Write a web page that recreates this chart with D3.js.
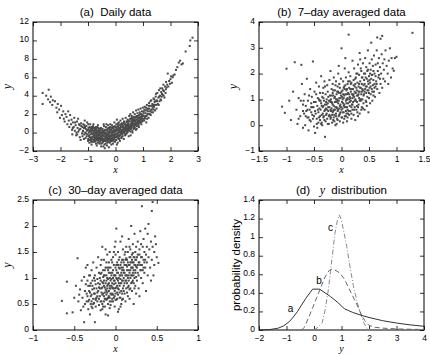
<!DOCTYPE html>
<html><head><meta charset="utf-8">
<script src="https://cdn.jsdelivr.net/npm/d3@7"></script>
<style>body{margin:0;background:#fff}svg{display:block}svg text{white-space:pre}</style>
</head><body>
<svg id="chart" width="430" height="354"></svg>
<script>
// ---- data ----
const titles = ["(a)  Daily data", "(b)  7\u2013day averaged data", "(c)  30\u2013day averaged data", "distribution"];
const ticksA_x = [-3,-2,-1,0,1,2,3], ticksA_y = [-2,0,2,4,6,8,10,12];
const ticksB_x = [-1.5,-1,-0.5,0,0.5,1,1.5], ticksB_y = [-1,0,1,2,3,4];
const ticksC_x = [-1,-0.5,0,0.5,1], ticksC_y = [0,0.5,1,1.5,2,2.5];
const ticksD_x = [-2,-1,0,1,2,3,4], ticksD_y = [0,0.2,0.4,0.6,0.8,1,1.2,1.4];

const dailyPts = [
-2.65,4.3,-2.65,3.1,-2.52,4.0,-2.43,4.65,-2.45,3.6,-2.38,3.3,-2.35,3.9,-2.3,3.0,-2.28,3.5,-2.2,3.4,-2.15,2.7,-2.12,2.2,-2.05,2.5,-2.02,1.6,-1.98,2.9,-1.95,1.9,-1.9,2.3,-1.88,1.5,-1.85,1.2,-2.1,3.1,-1.82,2.0,-1.78,1.7,-1.75,0.9,-1.72,2.3,-1.7,1.3,-1.68,0.6,
-1.65,1.9,-1.62,0.9,-1.6,1.4,-1.58,0.3,-1.55,1.1,-1.52,0.6,-1.5,1.6,-1.48,0.2,-1.45,0.8,-1.43,-0.3,-1.4,1.2,-1.38,0.5,-1.35,0.1,-1.33,0.9,-1.3,-0.5,-1.28,0.4,-1.25,1.0,-1.22,-0.1,-1.2,0.6,-1.18,0.2,-1.15,-0.7,-1.13,0.8,-1.1,0.0,-1.08,0.4,-1.05,-0.4,-1.03,1.1,-1.0,0.3,-1.0,-0.9,-1.27,-0.8,-1.42,0.0,-1.57,-0.2,-1.36,1.5,-1.12,1.3,-1.2,-0.4,-1.06,0.7,-1.32,0.3,-1.47,1.1,-1.17,0.9,-1.02,-0.2,-1.24,0.7,-1.39,-0.2,-1.09,-0.6,-1.15,0.5,-1.3,0.8,-1.55,0.5,
-0.98,0.5,-0.96,-0.3,-0.95,-1.1,-0.93,0.2,-0.92,0.9,-0.9,-0.6,-0.88,0.0,-0.87,-1.3,-0.85,0.4,-0.84,-0.2,-0.82,0.7,-0.8,-0.8,-0.79,0.1,-0.78,-0.4,-0.76,-1.0,-0.75,0.3,-0.73,-0.1,-0.72,0.6,-0.7,-0.7,-0.69,-0.3,-0.68,-1.4,-0.66,0.2,-0.65,-0.5,-0.64,0.8,-0.62,-0.9,-0.61,-0.2,-0.6,0.4,-0.58,-1.2,-0.57,-0.6,-0.56,0.0,-0.54,-0.4,-0.53,0.5,-0.52,-1.5,-0.51,-0.8,-0.97,0.0,-0.94,-0.5,-0.91,0.3,-0.89,-0.9,-0.86,0.6,-0.83,-0.5,-0.81,-0.1,-0.77,0.2,-0.74,-0.6,-0.71,-1.2,-0.67,0.0,-0.63,-0.3,-0.59,-0.7,-0.55,0.2,-0.99,-0.7,-0.8,0.9,-0.72,-0.9,-0.64,-1.1,-0.6,0.1,-0.56,-1.0,-0.52,-0.1,-0.86,-0.7,-0.78,0.5,-0.7,0.0,-0.62,0.5,-0.91,-0.2,-0.83,0.2,-0.75,-0.3,-0.67,-0.8,-0.58,-0.2,-0.69,0.4,-0.94,0.6,-0.88,-1.0,-0.76,-0.8,-0.66,-0.6,-0.54,-0.6,
-0.49,-0.3,-0.48,-1.1,-0.47,0.4,-0.46,-0.7,-0.45,0.1,-0.44,-1.5,-0.43,-0.4,-0.42,0.7,-0.41,-0.9,-0.4,-0.1,-0.39,-1.7,-0.38,0.3,-0.37,-0.6,-0.36,-1.2,-0.35,0.0,-0.34,-0.3,-0.33,0.9,-0.32,-0.8,-0.31,-1.4,-0.3,0.2,-0.29,-0.5,-0.28,-0.1,-0.27,-1.0,-0.26,0.5,-0.25,-0.7,-0.24,-1.6,-0.23,0.1,-0.22,-0.3,-0.21,-1.1,-0.2,0.6,-0.19,-0.6,-0.18,0.0,-0.17,-0.9,-0.16,0.3,-0.15,-1.3,-0.14,-0.4,-0.13,0.8,-0.12,-0.2,-0.11,-0.8,-0.1,0.2,-0.09,-1.2,-0.08,-0.5,-0.07,0.4,-0.06,0.0,-0.05,-0.7,-0.04,1.1,-0.03,-0.3,-0.02,-1.0,-0.01,0.3,-0.01,-0.5,-0.48,0.2,-0.45,-0.4,-0.41,0.0,-0.37,-0.2,-0.33,-0.5,-0.29,0.4,-0.25,-0.2,-0.21,0.3,-0.17,-0.4,-0.13,0.0,-0.09,0.5,-0.05,0.1,-0.46,-0.9,-0.38,-0.9,-0.3,-1.1,-0.22,-0.8,-0.14,-0.9,-0.06,-0.3,-0.43,0.9,-0.35,0.6,-0.27,0.8,-0.19,0.9,-0.11,0.6,-0.03,0.7,-0.4,-1.3,
0.01,-0.2,0.02,0.6,0.03,-0.8,0.04,0.2,0.05,1.4,0.06,-0.4,0.07,0.9,0.08,-1.1,0.09,0.0,0.1,0.5,0.11,-0.6,0.12,1.1,0.13,0.2,0.14,-0.3,0.15,0.8,0.16,-0.9,0.17,0.4,0.18,1.3,0.19,-0.1,0.2,0.6,0.21,0.1,0.22,-0.5,0.23,1.0,0.24,0.3,0.25,-0.2,0.26,1.5,0.27,0.7,0.28,0.0,0.29,0.4,0.3,-0.7,0.31,1.2,0.32,0.5,0.33,0.1,0.34,0.9,0.35,-0.3,0.36,0.6,0.37,1.6,0.38,0.2,0.39,0.8,0.4,-0.1,0.41,1.1,0.42,0.4,0.43,0.0,0.44,1.4,0.45,0.7,0.46,0.3,0.47,1.0,0.48,-0.4,0.49,0.6,0.5,1.8,0.03,0.4,0.07,-0.3,0.11,0.3,0.15,0.0,0.19,0.7,0.23,-0.1,0.27,0.3,0.31,0.1,0.35,0.9,0.39,0.3,0.43,0.8,0.47,0.4,0.05,-1.3,0.13,-0.7,0.21,-0.6,0.29,1.0,0.37,-0.2,0.45,1.2,0.1,1.0,0.25,0.9,
0.51,0.3,0.52,1.2,0.53,0.7,0.54,2.0,0.55,0.1,0.56,1.5,0.57,0.9,0.58,0.5,0.59,1.8,0.6,1.1,0.61,0.2,0.62,1.4,0.63,0.8,0.64,2.2,0.65,1.0,0.66,0.4,0.67,1.7,0.68,1.2,0.69,0.6,0.7,2.0,0.71,1.3,0.72,0.9,0.73,1.6,0.74,0.3,0.75,2.4,0.76,1.1,0.77,1.8,0.78,0.7,0.79,1.4,0.8,2.1,0.81,1.0,0.82,1.6,0.83,2.5,0.84,0.8,0.85,1.3,0.86,1.9,0.87,1.5,0.88,2.2,0.89,1.1,0.9,1.7,0.91,2.6,0.92,1.4,0.93,2.0,0.94,0.9,0.95,1.6,0.96,2.3,0.97,1.2,0.98,1.9,0.99,2.7,1.0,1.5,0.55,-0.3,0.62,0.0,0.7,0.5,0.77,0.4,0.85,0.6,0.58,1.0,0.66,1.3,0.74,1.0,0.82,1.2,0.9,1.2,
1.02,2.1,1.04,1.3,1.06,2.8,1.08,1.8,1.1,2.4,1.12,1.1,1.14,3.0,1.16,2.0,1.18,2.6,1.2,1.6,1.22,3.2,1.24,2.3,1.26,2.9,1.28,1.9,1.3,3.5,1.32,2.5,1.34,3.1,1.36,2.2,1.38,3.7,1.4,2.8,1.42,3.3,1.44,2.4,1.46,3.9,1.48,3.0,1.5,3.5,1.05,2.5,1.15,1.5,1.25,2.0,1.35,2.7,1.45,3.4,1.11,2.7,1.21,2.9,1.31,2.2,1.41,3.6,1.49,2.6,1.07,1.6,1.17,2.3,1.27,3.4,1.37,3.0,1.47,4.2,
1.52,4.3,1.54,3.1,1.56,3.8,1.58,4.6,1.6,3.4,1.62,4.0,1.64,3.6,1.66,4.4,1.68,3.9,1.7,4.8,1.72,4.1,1.74,5.2,1.76,4.5,1.78,3.8,1.8,5.0,1.82,4.3,1.84,5.5,1.86,4.9,1.88,5.2,1.9,6.4,1.92,5.0,1.95,5.6,1.98,5.3,2.0,5.8,1.57,3.0,1.63,4.8,1.69,4.2,1.75,4.0,1.83,4.7,
2.05,5.4,2.08,6.0,2.1,6.2,2.15,6.3,2.2,6.8,2.3,7.6,2.35,7.8,2.4,7.4,2.45,7.5,2.55,8.8,2.7,9.4,2.72,10.0,2.8,10.3,2.25,7.1,2.02,6.1,
-1.19,0.1,-1.14,-0.2,-1.11,0.6,-1.07,-0.1,-1.04,0.2,-0.99,0.9,-0.97,-0.4,-0.95,0.1,-0.93,-0.8,-0.9,0.5,-0.89,0.2,-0.87,-0.5,-0.85,-0.1,-0.84,0.3,-0.82,-1.0,-0.81,0.5,-0.79,-0.3,-0.77,-0.6,-0.76,0.0,-0.74,0.4,-0.73,-0.5,-0.71,0.2,-0.7,-0.2,-0.68,-0.5,-0.67,0.6,-0.65,-0.1,-0.63,-0.7,-0.62,0.2,-0.61,-0.5,-0.59,0.0,-0.57,-0.3,-0.55,-0.8,-0.54,0.3,-0.53,-0.5,-0.51,-1.2,-0.5,0.0,-0.49,-0.6,-0.47,-0.2,-0.46,-1.0,-0.44,-0.1,-0.43,-0.7,-0.42,0.2,-0.41,-0.4,-0.39,-0.8,-0.38,0.0,-0.36,-0.5,-0.35,-0.9,-0.34,0.3,-0.32,-0.2,-0.31,-0.6,-0.3,-0.3,-0.28,-0.8,-0.27,0.1,-0.26,-0.4,-0.24,-0.1,-0.23,-0.6,-0.22,0.4,-0.2,-0.4,-0.19,-1.0,-0.18,0.2,-0.16,-0.7,-0.15,-0.2,-0.14,0.5,-0.12,-0.6,-0.11,0.1,-0.1,-0.3,-0.08,-0.9,-0.07,0.0,-0.06,0.6,-0.04,-0.5,-0.03,0.2,-0.02,-0.2,0.0,-0.8,0.0,0.1,0.02,-0.5,0.03,0.9,0.04,-0.1,0.06,0.3,0.08,-0.6,0.09,0.7,0.1,-0.2,0.12,0.2,0.13,-0.4,0.15,0.5,0.16,0.1,0.18,-0.3,0.19,0.9,0.2,0.3,0.22,0.0,0.23,0.6,0.25,0.2,0.26,-0.4,0.28,0.7,0.29,0.1,0.3,0.5,0.32,1.0,0.33,-0.1,0.34,0.4,0.36,0.2,0.37,0.8,0.38,0.5,0.4,1.2,0.41,0.3,0.42,0.7,0.44,0.1,0.45,0.9,0.46,0.5,0.48,1.3,0.49,0.2,0.5,0.8,0.52,0.5,0.53,1.5,0.55,0.9,0.56,0.4,0.58,1.3,0.59,0.7,0.6,1.6,0.62,0.9,0.63,1.2,0.65,0.6,0.66,1.5,0.68,0.9,0.7,1.4,0.71,0.8,0.73,1.2,0.75,1.7,0.76,0.9,0.78,1.4,0.8,1.0,0.81,1.8,0.83,1.3,0.85,1.0,0.86,1.6,0.88,1.3,0.9,2.0,0.92,1.1,0.94,1.5,0.96,1.8,0.98,1.3,1.01,1.8,1.03,2.3,1.06,1.5,1.09,2.1,1.13,1.8,1.16,2.5,1.19,2.0,1.23,2.6,1.28,2.4,1.33,2.9,1.39,2.5,1.43,3.0,1.51,3.4,1.59,3.9,1.66,3.5,1.73,4.6
];

const weeklyPts = [
-1.08,0.72,-1.03,0.48,-1.0,2.19,-0.95,0.95,-0.92,0.2,-0.88,1.3,-0.85,2.44,-0.82,0.6,-0.8,0.05,-0.78,1.05,-0.75,0.35,-0.73,2.34,-0.72,1.6,-0.7,0.8,-0.7,-0.1,
-0.68,0.45,-0.67,1.2,-0.66,0.0,-0.65,0.75,-0.63,1.8,-0.62,0.3,-0.61,0.95,-0.6,-0.2,-0.58,0.6,-0.57,1.4,-0.56,0.15,-0.55,0.85,-0.54,1.1,-0.53,0.4,-0.52,2.47,-0.51,0.7,-0.5,-0.05,-0.49,1.3,-0.48,-0.3,-0.48,0.55,-0.47,0.9,-0.46,1.65,-0.45,0.25,-0.44,0.75,-0.43,1.05,-0.42,0.1,-0.42,0.5,-0.41,1.5,-0.4,0.65,-0.4,0.95,-0.69,0.95,-0.64,0.55,-0.59,1.15,-0.55,0.5,-0.5,0.35,-0.46,1.2,-0.44,-0.1,-0.41,0.3,-0.6,0.3,-0.53,0.7,
-0.39,0.2,-0.39,1.25,-0.38,0.6,-0.37,0.85,-0.37,1.9,-0.36,0.4,-0.35,1.1,-0.35,0.0,-0.34,0.7,-0.33,1.45,-0.33,0.3,-0.32,0.95,-0.31,0.55,-0.31,1.7,-0.3,-0.45,-0.3,0.8,-0.29,1.2,-0.29,0.15,-0.28,0.65,-0.27,1.0,-0.27,0.45,-0.26,1.55,-0.26,0.25,-0.25,0.85,-0.25,1.3,-0.24,0.55,-0.23,0.05,-0.23,0.95,-0.22,1.75,-0.22,0.7,-0.21,0.35,-0.21,1.15,-0.2,0.6,-0.2,2.1,-0.38,0.95,-0.36,0.1,-0.34,1.25,-0.32,0.35,-0.3,1.5,-0.28,0.9,-0.26,0.6,-0.24,1.1,-0.22,0.4,-0.2,0.9,-0.33,0.75,
-0.19,1.0,-0.19,0.3,-0.18,1.4,-0.18,0.65,-0.17,0.1,-0.17,0.85,-0.16,1.6,-0.16,0.5,-0.15,1.15,-0.15,0.2,-0.14,0.75,-0.14,1.85,-0.13,0.4,-0.13,1.05,-0.12,0.6,-0.12,1.35,-0.11,0.0,-0.11,0.9,-0.1,1.7,-0.1,0.45,-0.09,1.2,-0.09,0.7,-0.08,0.25,-0.08,1.0,-0.07,1.5,-0.07,0.55,-0.06,0.85,-0.06,2.0,-0.05,0.35,-0.05,1.25,-0.04,0.65,-0.04,1.05,-0.03,0.15,-0.03,1.45,-0.02,0.8,-0.02,0.5,-0.01,1.15,-0.01,1.8,0.0,0.6,0.0,2.98,-0.18,0.9,-0.16,1.25,-0.14,0.3,-0.12,0.9,-0.1,1.0,-0.08,0.65,-0.06,1.3,-0.04,0.4,-0.02,1.25,-0.15,0.55,-0.11,1.55,-0.07,0.95,-0.03,0.75,-0.09,0.05,-0.05,2.3,
0.01,0.9,0.01,0.3,0.02,1.35,0.02,0.65,0.03,1.7,0.03,0.1,0.04,1.05,0.04,0.5,0.05,1.5,0.05,0.8,0.06,2.2,0.06,0.35,0.07,1.2,0.07,0.7,0.08,0.95,0.08,1.85,0.09,0.45,0.09,1.35,0.1,0.15,0.1,1.0,0.11,1.6,0.11,0.6,0.12,1.25,0.12,0.85,0.13,2.05,0.13,3.51,0.14,0.4,0.14,1.45,0.15,0.75,0.15,1.1,0.16,1.9,0.16,0.55,0.17,1.3,0.17,0.95,0.18,0.25,0.18,1.65,0.19,0.8,0.19,1.2,0.2,2.5,0.2,0.6,0.02,1.0,0.04,0.75,0.06,1.4,0.08,0.55,0.1,1.2,0.12,0.45,0.14,1.0,0.16,1.4,0.18,0.7,0.2,1.05,0.03,1.2,0.09,1.0,0.15,1.7,0.11,0.3,0.07,2.6,
0.21,1.4,0.21,0.9,0.22,1.75,0.22,0.4,0.23,1.1,0.23,2.2,0.24,0.7,0.24,1.5,0.25,1.0,0.25,0.2,0.26,1.85,0.26,1.25,0.27,0.6,0.27,2.0,0.28,1.35,0.28,0.9,0.29,1.65,0.29,0.5,0.3,1.15,0.3,2.35,0.31,0.8,0.31,1.5,0.32,1.95,0.32,1.05,0.33,0.45,0.33,1.3,0.34,1.7,0.34,2.55,0.35,0.95,0.35,1.45,0.36,1.2,0.36,2.1,0.37,0.7,0.37,1.6,0.38,1.0,0.38,1.85,0.39,1.35,0.39,2.4,0.4,0.85,0.4,1.55,0.22,1.2,0.25,1.6,0.28,0.75,0.31,1.3,0.34,1.0,0.37,1.3,0.24,0.95,0.3,0.35,0.36,0.6,0.33,2.8,
0.41,1.2,0.41,2.0,0.42,0.6,0.42,1.6,0.43,1.4,0.43,2.6,0.44,0.95,0.44,1.85,0.45,1.25,0.45,2.25,0.46,0.75,0.46,1.5,0.47,1.1,0.47,2.1,0.48,1.7,0.48,2.9,0.49,1.35,0.49,0.5,0.5,1.9,0.5,1.05,0.51,2.4,0.51,1.45,0.52,0.85,0.52,1.65,0.53,2.15,0.53,1.2,0.54,3.2,0.54,1.8,0.55,1.4,0.55,2.55,0.56,0.95,0.56,1.95,0.57,1.55,0.57,2.3,0.58,1.15,0.58,1.75,0.59,2.7,0.59,1.3,0.6,2.0,0.6,1.6,
0.61,1.1,0.62,2.35,0.63,1.7,0.64,2.9,0.65,3.4,0.65,1.4,0.66,2.1,0.67,1.85,0.68,2.6,0.69,1.25,0.7,2.25,0.71,3.35,0.71,1.6,0.72,2.0,0.73,2.75,0.74,3.46,0.74,1.45,0.75,2.4,0.76,1.8,0.77,2.15,0.78,2.55,0.79,1.7,0.8,2.9,0.62,1.5,0.68,1.95,
0.82,2.3,0.84,2.0,0.86,2.5,0.88,2.98,0.9,1.85,0.91,2.6,0.93,2.2,0.95,2.11,0.97,2.6,1.0,2.65,1.29,3.58,0.85,1.6,
-0.58,0.2,-0.55,0.7,-0.52,0.25,-0.5,0.9,-0.47,0.45,-0.45,0.05,-0.43,0.6,-0.41,1.0,-0.39,0.35,-0.37,0.05,-0.36,0.75,-0.34,0.45,-0.33,1.05,-0.31,0.2,-0.3,0.6,-0.28,0.4,-0.27,0.8,-0.25,0.05,-0.24,0.7,-0.23,0.35,-0.21,0.95,-0.2,0.25,-0.19,0.55,-0.18,1.15,-0.17,0.4,-0.16,0.8,-0.15,1.35,-0.14,0.6,-0.13,0.15,-0.12,1.1,-0.11,0.7,-0.1,0.35,-0.09,0.9,-0.08,1.3,-0.07,0.2,-0.06,0.6,-0.05,0.95,-0.04,1.6,-0.03,0.45,-0.02,1.05,-0.01,0.7,0.0,1.3,0.0,0.3,0.01,1.1,0.02,0.5,0.03,0.85,0.04,1.45,0.05,0.25,0.05,1.15,0.06,0.7,0.07,1.55,0.08,0.35,0.09,0.85,0.1,1.4,0.1,0.7,0.11,1.05,0.12,1.7,0.13,0.55,0.14,1.2,0.15,0.9,0.16,1.05,0.17,1.6,0.18,0.45,0.19,1.4,0.2,0.8,0.21,1.15,0.22,1.55,0.23,0.6,0.24,1.3,0.25,1.8,0.26,0.95,0.27,1.45,0.28,1.15,0.29,2.0,0.3,0.7,0.31,1.2,0.32,1.6,0.33,0.95,0.34,1.45,0.35,2.2,0.36,1.0,0.37,1.85,0.38,1.4,0.39,0.65,0.4,1.15,0.41,1.75,0.42,1.3,0.43,2.0,0.44,1.5,0.45,0.9,0.46,1.8,0.47,1.35,0.48,2.15,0.49,1.6,0.5,1.25,0.51,1.75,0.52,2.0,0.53,1.5,0.55,1.95,0.56,1.3,0.58,2.1,0.6,1.45,0.62,1.9,0.64,1.6,0.66,2.4,0.7,1.8,-0.62,0.6,-0.65,0.35,-0.7,0.55,-0.74,0.95,-0.78,0.25
];

const monthlyPts = [
-0.65,0.56,-0.59,0.93,-0.59,0.32,-0.52,0.34,-0.46,1.38,-0.42,0.38,-0.38,0.15,-0.5,0.62,-0.48,0.85,-0.45,0.55,-0.43,0.78,-0.41,0.95,-0.4,0.62,-0.39,0.45,-0.37,0.75,-0.36,0.88,-0.36,1.2,-0.35,0.55,-0.44,0.68,-0.38,1.02,
-0.34,0.65,-0.34,1.25,-0.33,0.4,-0.33,0.85,-0.32,0.58,-0.32,1.05,-0.31,0.72,-0.31,0.3,-0.3,0.9,-0.3,0.5,-0.29,1.15,-0.29,0.68,-0.28,0.42,-0.28,0.95,-0.27,0.6,-0.27,1.3,-0.26,0.8,-0.26,0.52,-0.25,1.05,-0.25,0.15,-0.25,0.7,-0.24,0.88,-0.24,0.45,-0.23,1.2,-0.23,0.62,-0.22,0.98,-0.22,0.55,-0.21,0.75,-0.21,1.4,-0.2,0.82,-0.2,0.48,-0.2,1.1,-0.34,0.95,-0.31,1.05,-0.28,0.78,-0.26,1.0,-0.24,0.6,-0.22,0.72,-0.29,0.55,-0.32,0.75,
-0.19,0.65,-0.19,1.0,-0.18,0.38,-0.18,1.25,-0.17,0.8,-0.17,0.55,-0.16,1.6,-0.16,0.92,-0.15,0.7,-0.15,1.15,-0.15,0.45,-0.14,0.85,-0.14,1.35,-0.13,0.6,-0.13,1.05,-0.12,0.78,-0.12,0.3,-0.12,1.2,-0.11,0.95,-0.11,0.58,-0.1,1.45,-0.1,0.72,-0.1,1.0,-0.09,0.5,-0.09,0.88,-0.08,1.3,-0.08,0.65,-0.08,1.1,-0.07,0.8,-0.07,0.42,-0.07,1.5,-0.06,0.95,-0.06,0.7,-0.06,1.2,-0.05,0.55,-0.05,1.05,-0.05,0.85,-0.19,0.8,-0.18,0.95,-0.17,1.1,-0.16,0.68,-0.15,0.9,-0.14,0.55,-0.13,0.82,-0.12,1.55,-0.11,0.75,-0.1,0.6,-0.09,1.15,-0.08,0.9,-0.07,1.0,-0.06,0.48,-0.05,1.35,-0.14,1.05,-0.11,1.3,-0.09,0.28,-0.17,1.35,-0.13,0.45,-0.07,0.62,-0.16,0.4,-0.1,0.85,
-0.04,0.7,-0.04,1.1,-0.04,0.9,-0.03,1.4,-0.03,0.55,-0.03,1.0,-0.02,0.8,-0.02,1.25,-0.02,0.62,-0.01,1.05,-0.01,0.45,-0.01,1.6,0.0,0.9,0.0,1.2,0.0,0.7,0.01,1.95,0.01,1.0,0.01,0.58,0.02,1.3,0.02,0.85,0.02,1.1,0.03,0.68,0.03,1.5,0.03,0.95,0.04,1.2,0.04,0.78,0.04,0.4,0.05,1.05,0.05,1.4,0.05,0.62,0.06,0.9,0.06,1.25,0.06,1.7,0.07,0.75,0.07,1.1,0.07,0.5,0.08,1.35,0.08,0.95,0.08,1.15,0.09,0.8,0.09,1.55,0.09,0.6,0.1,1.0,0.1,1.3,0.1,0.85,-0.04,1.3,-0.02,0.95,0.0,1.45,0.02,0.72,0.04,1.0,0.06,1.05,0.08,0.7,0.1,1.15,-0.03,0.8,0.01,1.15,0.05,0.85,0.09,1.2,-0.01,0.75,0.03,1.25,0.07,1.3,0.03,0.35,0.0,1.7,0.06,0.45,-0.02,1.5,0.08,1.8,
0.11,1.1,0.11,0.7,0.11,1.45,0.12,0.95,0.12,1.25,0.12,0.55,0.13,1.6,0.13,1.05,0.13,0.8,0.14,1.35,0.14,0.9,0.14,1.15,0.15,0.65,0.15,1.5,0.15,1.0,0.16,1.25,0.16,1.75,0.16,0.85,0.17,1.1,0.17,1.4,0.17,0.6,0.18,1.0,0.18,1.3,0.18,1.55,0.19,0.9,0.19,1.2,0.19,2.0,0.2,1.05,0.2,1.45,0.2,0.75,0.21,1.3,0.21,1.65,0.21,0.95,0.22,1.15,0.22,1.4,0.22,0.5,0.23,1.0,0.23,1.25,0.23,1.85,0.24,0.85,0.24,1.5,0.24,1.1,0.25,1.35,0.25,0.7,0.25,1.6,0.12,1.35,0.14,0.72,0.16,1.05,0.18,0.8,0.2,1.2,0.22,0.9,0.24,1.25,0.13,1.25,0.17,1.6,0.21,1.1,
0.26,1.2,0.26,0.95,0.27,1.45,0.27,1.7,0.28,1.05,0.28,0.8,0.29,1.3,0.29,1.55,0.3,1.15,0.3,1.9,0.31,1.0,0.31,1.4,0.32,1.25,0.32,2.38,0.33,1.6,0.33,0.9,0.34,1.35,0.34,1.75,0.35,1.1,0.35,1.5,0.36,1.95,0.36,1.2,0.37,1.45,0.37,0.75,0.38,1.6,0.38,1.3,0.39,1.05,0.39,1.85,0.4,1.4,0.4,2.04,0.27,1.25,0.31,1.65,0.35,1.3,0.29,0.65,0.33,1.15,
0.41,1.55,0.42,1.2,0.43,1.7,0.44,2.29,0.44,1.35,0.45,2.46,0.45,1.6,0.46,1.05,0.47,1.5,0.48,1.8,0.5,1.4,0.52,1.29,0.47,1.25,0.43,0.95,0.49,1.65,
-0.3,0.65,-0.28,0.85,-0.27,0.5,-0.26,0.7,-0.25,0.95,-0.24,0.58,-0.23,0.8,-0.22,0.65,-0.21,0.9,-0.2,0.6,-0.19,0.88,-0.18,0.55,-0.18,1.08,-0.17,0.72,-0.16,0.5,-0.16,0.82,-0.15,1.02,-0.14,0.65,-0.14,0.95,-0.13,0.72,-0.13,1.15,-0.12,0.6,-0.12,0.9,-0.11,1.05,-0.11,0.68,-0.1,0.8,-0.1,1.2,-0.09,0.62,-0.09,0.98,-0.08,0.75,-0.08,1.2,-0.07,0.85,-0.07,0.55,-0.06,1.1,-0.06,0.8,-0.05,0.68,-0.05,0.98,-0.04,0.6,-0.04,0.82,-0.03,1.15,-0.03,0.68,-0.02,1.05,-0.02,0.88,-0.01,0.65,-0.01,0.95,0.0,1.05,0.0,0.8,0.0,0.58,0.01,1.25,0.01,0.82,0.02,0.98,0.02,0.6,0.03,1.1,0.03,0.8,0.04,1.35,0.04,0.9,0.05,0.72,0.05,1.18,0.06,0.98,0.06,0.62,0.07,1.2,0.07,0.9,0.08,1.05,0.08,0.58,0.09,1.35,0.09,0.95,0.1,0.75,0.1,1.1,0.11,1.25,0.11,0.9,0.12,1.05,0.12,1.5,0.13,0.95,0.13,1.38,0.14,1.05,0.14,1.22,0.15,0.82,0.15,1.3,0.16,1.15,0.16,0.95,0.17,1.25,0.17,0.78,0.18,1.15,0.18,1.4,0.19,1.05,0.19,1.3,0.2,0.92,0.2,1.35,0.21,1.2,0.21,1.48,0.22,1.05,0.22,1.3,0.23,1.4,0.23,0.8,0.24,1.15,0.24,1.35,0.25,1.02,0.25,1.22,0.26,1.4,0.27,1.1,0.28,1.3,0.29,1.45,0.3,1.25,0.31,1.15,0.32,1.4,0.34,1.2,0.36,1.35,-0.33,0.55,-0.35,0.7,-0.37,0.5,-0.31,0.85,-0.29,0.45
];

// panel (d) density curves
const curveA_x = [-2,-1.6,-1.3,-1.1,-0.9,-0.75,-0.6,-0.45,-0.3,-0.15,-0.05,0.2,0.4,0.6,0.85,1.1,1.4,1.7,2.0,2.5,3.0,3.5,4.0];
const curveA_y = [0,0.005,0.02,0.045,0.09,0.14,0.2,0.27,0.34,0.4,0.44,0.44,0.4,0.36,0.3,0.23,0.19,0.16,0.135,0.1,0.075,0.055,0.04];
const curveB_x = [-0.45,-0.35,-0.2,-0.05,0.1,0.25,0.4,0.55,0.65,0.8,0.95,1.1,1.25,1.4,1.55,1.7,1.85,2.0,2.2,2.5,3.0,3.5,4.0];
const curveB_y = [0,0.03,0.13,0.24,0.35,0.46,0.57,0.64,0.655,0.64,0.61,0.55,0.46,0.37,0.28,0.18,0.1,0.05,0.03,0.02,0.012,0.008,0.005];
const curveC_x = [0.0,0.15,0.3,0.4,0.52,0.6,0.68,0.76,0.85,0.92,0.98,1.07,1.19,1.31,1.43,1.55,1.67,1.79,1.92,2.05];
const curveC_y = [0,0.03,0.08,0.21,0.43,0.63,0.83,1.04,1.18,1.24,1.2,1.08,0.9,0.68,0.48,0.32,0.2,0.09,0.02,0];
const curveLabels = ["a","b","c"];
const curveLabelX = [-0.85,0.18,0.6];
const curveLabelY = [0.23,0.53,1.1];

// ---- drawing ----
const svg = d3.select("#chart");
svg.append("rect").attr("width",430).attr("height",354).attr("fill","#fff");
const SANS = "Liberation Sans, Arial, Helvetica, sans-serif";
const SERIF = "Liberation Serif, Times New Roman, serif";
const fmt = d3.format("");

function pairs(arr){ const out=[]; for(let i=0;i<arr.length;i+=2) out.push([arr[i],arr[i+1]]); return out; }

function panel(o){
  const g = svg.append("g");
  const x = d3.scaleLinear().domain(o.xDom).range([o.left, o.left+o.w]);
  const y = d3.scaleLinear().domain(o.yDom).range([o.top+o.h, o.top]);
  const style = sel => { sel.select(".domain").remove(); sel.selectAll("line").attr("stroke","#000").attr("stroke-width",0.8);
    sel.selectAll("text").attr("font-family",SANS).attr("font-size",8.5).attr("fill","#000"); };
  g.append("g").attr("transform",`translate(0,${o.top+o.h})`)
    .call(d3.axisBottom(x).tickValues(o.xt).tickSize(-4).tickPadding(5).tickFormat(fmt)).call(style);
  g.append("g").attr("transform",`translate(0,${o.top})`)
    .call(d3.axisTop(x).tickValues(o.xt).tickSize(-4).tickFormat("")).call(style);
  const yl = g.append("g").attr("transform",`translate(${o.left},0)`)
    .call(d3.axisLeft(y).tickValues(o.yt).tickSize(-4).tickPadding(4).tickFormat(fmt)).call(style);
  yl.selectAll("text").attr("dy","0.15em");
  g.append("g").attr("transform",`translate(${o.left+o.w},0)`)
    .call(d3.axisRight(y).tickValues(o.yt).tickSize(-4).tickFormat("")).call(style);
  g.append("rect").attr("x",o.left).attr("y",o.top).attr("width",o.w).attr("height",o.h)
    .attr("fill","none").attr("stroke","#000").attr("stroke-width",1);
  return {g,x,y};
}

function titleText(o, t){
  svg.append("text").attr("x",o.left+o.w/2).attr("y",o.top-6).attr("text-anchor","middle")
    .attr("font-family",SANS).attr("font-size",11.5).text(t);
}
function xLabel(o,t){
  svg.append("text").attr("x",o.left+o.w/2).attr("y",o.top+o.h+22).attr("text-anchor","middle")
    .attr("font-family",SERIF).attr("font-style","italic").attr("font-size",10).text(t);
}
function yLabel(o,t,cx,serif){
  svg.append("text").attr("transform",`translate(${cx},${o.top+o.h/2}) rotate(-90)`).attr("text-anchor","middle")
    .attr("font-family",serif?SERIF:SANS).attr("font-style",serif?"italic":"normal").attr("font-size",serif?12:11.5).text(t);
}
function scatter(p, arr){
  p.g.append("g").selectAll("rect").data(pairs(arr)).join("rect")
    .attr("x",d=>p.x(d[0])-1).attr("y",d=>p.y(d[1])-1).attr("width",2).attr("height",2).attr("fill","#4a4a4a");
}

const oA = {left:33, top:22, w:165, h:129, xDom:[-3,3], yDom:[-2,12], xt:ticksA_x, yt:ticksA_y};
const oB = {left:259, top:22, w:165, h:129, xDom:[-1.5,1.5], yDom:[-1,4], xt:ticksB_x, yt:ticksB_y};
const oC = {left:33, top:200, w:165, h:130, xDom:[-1,1], yDom:[0,2.5], xt:ticksC_x, yt:ticksC_y};
const oD = {left:259, top:200, w:165, h:130, xDom:[-2,4], yDom:[0,1.4], xt:ticksD_x, yt:ticksD_y};

const pA = panel(oA); scatter(pA, dailyPts);
const pB = panel(oB); scatter(pB, weeklyPts);
const pC = panel(oC); scatter(pC, monthlyPts);
const pD = panel(oD);

const line = d3.line().x(d=>pD.x(d[0])).y(d=>pD.y(d[1]));
const zipc = (xs,ys)=>xs.map((v,i)=>[v,ys[i]]);
pD.g.append("path").attr("d",line(zipc(curveC_x,curveC_y))).attr("fill","none").attr("stroke","#888").attr("stroke-width",1).attr("stroke-dasharray","5,2,1,2");
pD.g.append("path").attr("d",line(zipc(curveB_x,curveB_y))).attr("fill","none").attr("stroke","#666").attr("stroke-width",1).attr("stroke-dasharray","5,3");
pD.g.append("path").attr("d",line(zipc(curveA_x,curveA_y))).attr("fill","none").attr("stroke","#333").attr("stroke-width",1);
curveLabels.forEach((t,i)=>{
  pD.g.append("text").attr("x",pD.x(curveLabelX[i])).attr("y",pD.y(curveLabelY[i])).attr("text-anchor","middle")
    .attr("dy","0.35em").attr("font-family",SANS).attr("font-size",10).text(t);
});

titleText(oA, titles[0]); titleText(oB, titles[1]); titleText(oC, titles[2]);
// title (d) with italic serif y
const tD = svg.append("text").attr("x",oD.left+oD.w/2).attr("y",oD.top-6).attr("text-anchor","middle")
  .attr("font-family",SANS).attr("font-size",11.5);
tD.append("tspan").text("(d)   ");
tD.append("tspan").attr("font-family",SERIF).attr("font-style","italic").attr("font-size",12).text("y");
tD.append("tspan").text("  " + titles[3]);

xLabel(oA,"x"); xLabel(oB,"x"); xLabel(oC,"x"); xLabel(oD,"y");
yLabel(oA,"y",11,true); yLabel(oB,"y",237,true); yLabel(oC,"y",11,true);
yLabel(oD,"probability density",240,false);
</script>
</body></html>
